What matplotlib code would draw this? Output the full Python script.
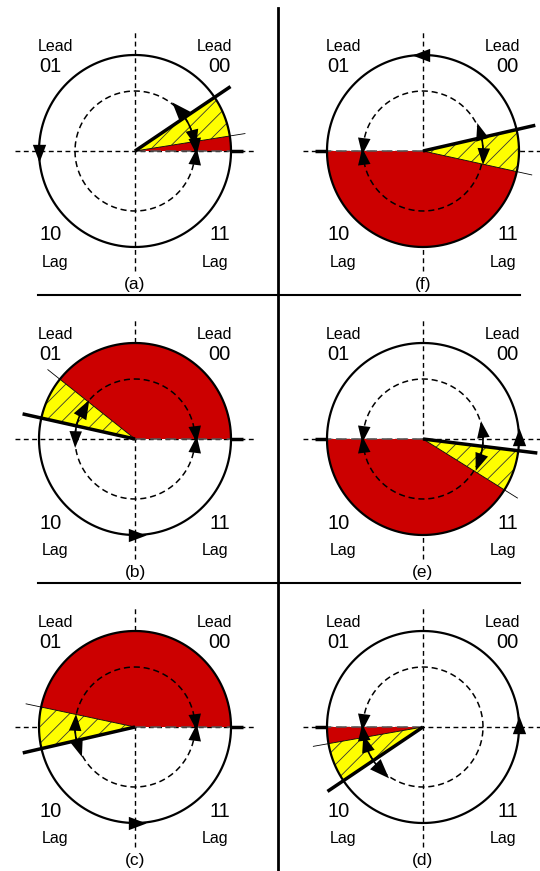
import numpy as np
import matplotlib.pyplot as plt
from matplotlib.patches import Wedge

plt.rcParams['font.family'] = ['Liberation Sans', 'DejaVu Sans']
plt.rcParams['hatch.linewidth'] = 0.6

# angles in degrees, counter-clockwise from +x
PANELS = ['(a)', '(b)', '(c)', '(f)', '(e)', '(d)']
AXIS_REF = [0, 0, 0, 180, 180, 180]            # where the red zone starts
RED_END = [9, 141.5, 168, 347.6, 328, 190]      # red zone end (thin line)
THICK = [34, 167.4, 193, 372.9, 353, 214]       # thick line, end of yellow zone
ARC_LO = [9, 146, 172, 352, 335, 192]           # solid double arrow on inner circle
ARC_HI = [47, 183, 203, 382, 373, 229]
OUTER_ARROW = [180, 270, 270, 90, 0, 0]         # rotation arrow on outer circle
QUAD_NUM = ['01', '00', '10', '11']
QUAD_TXT = ['Lead', 'Lead', 'Lag', 'Lag']

# layout (pixels)
FW, FH = 540, 871
COL_X = [135, 423]
ROW_Y = [151, 439, 727]
R = 96
R_IN = 0.625
RED = '#CC0000'
YEL = '#FFFF00'

fig = plt.figure(figsize=(FW / 100, FH / 100), dpi=100)

bg = fig.add_axes([0, 0, 1, 1])
bg.set_xlim(0, FW); bg.set_ylim(FH, 0); bg.axis('off')
bg.plot([278, 278], [8, 871], color='black', lw=2)
bg.plot([38, 520], [295, 295], color='black', lw=1.5)
bg.plot([38, 520], [583, 583], color='black', lw=1.5)


def head(ax, r, th, ccw=True, ms=15):
    t = np.radians(th)
    phi = np.radians(th + 90 if ccw else th - 90)
    base = np.array([[1.0, 0.0], [-0.6, 0.6], [-0.6, -0.6], [1.0, 0.0]])
    rotm = np.array([[np.cos(phi), -np.sin(phi)], [np.sin(phi), np.cos(phi)]])
    verts = base @ rotm.T
    ax.plot(r * np.cos(t), r * np.sin(t), marker=verts, ms=ms, mew=0,
            color='black', zorder=6)


def ray(ax, th, r0, r1, **kw):
    t = np.radians(th)
    ax.plot([r0 * np.cos(t), r1 * np.cos(t)], [r0 * np.sin(t), r1 * np.sin(t)], **kw)


for i, lab in enumerate(PANELS):
    cx, cy = COL_X[i // 3], ROW_Y[i % 3]
    ax = fig.add_axes([(cx - 135) / FW, (FH - cy - 145) / FH, 270 / FW, 290 / FH])
    ax.set_xlim(-135 / R, 135 / R); ax.set_ylim(-145 / R, 145 / R)
    ax.axis('off')

    # dashed axes
    ax.plot([-1.25, 1.25], [0, 0], color='black', lw=1, ls=(0, (3.5, 2.5)), zorder=1)
    ax.plot([0, 0], [-1.25, 1.25], color='black', lw=1, ls=(0, (3.5, 2.5)), zorder=1)

    a0, re, tk = AXIS_REF[i], RED_END[i], THICK[i]
    ax.add_patch(Wedge((0, 0), 1, a0, re, facecolor=RED, edgecolor='none', zorder=2))
    ax.add_patch(Wedge((0, 0), 1, re, tk, facecolor=YEL, edgecolor='#333333',
                       hatch='//', lw=0, zorder=2))
    ray(ax, a0, 0, 1, color='#555555', lw=1.1, ls=(0, (7, 3)), zorder=3)
    ray(ax, a0, 1, 1.13, color='black', lw=2.5, zorder=4, solid_capstyle='butt')

    # inner dashed circle
    t = np.linspace(0, 2 * np.pi, 300)
    ax.plot(R_IN * np.cos(t), R_IN * np.sin(t), color='black', lw=1.1,
            ls=(0, (4, 2.5)), zorder=3)
    ta = np.radians(np.linspace(ARC_LO[i], ARC_HI[i], 60))
    ax.plot(R_IN * np.cos(ta), R_IN * np.sin(ta), color='black', lw=1.2, zorder=4)
    head(ax, R_IN, ARC_LO[i] + 5, ccw=False)
    head(ax, R_IN, ARC_HI[i] - 5, ccw=True)
    head(ax, R_IN, a0 + 7, ccw=False)
    head(ax, R_IN, a0 - 7, ccw=True)

    # outer circle
    ax.plot(np.cos(t), np.sin(t), color='black', lw=1.6, zorder=4)
    head(ax, 1, OUTER_ARROW[i], ccw=True, ms=16)

    # thin and thick lines
    ray(ax, re, 0, 1.16, color='black', lw=0.6, zorder=4)
    ray(ax, tk, 0, 1.2, color='black', lw=2.5, zorder=5, solid_capstyle='butt')

    # quadrant labels
    for (x, y), num, txt in zip([(-1, 1), (1, 1), (-1, -1), (1, -1)], QUAD_NUM, QUAD_TXT):
        ny = 0.875 * y
        ty = 1.09 if y > 0 else -1.16
        ax.text(0.88 * x, ny, num, fontsize=14.5, ha='center', va='center')
        ax.text(0.83 * x, ty, txt, fontsize=11.5, ha='center', va='center')
    ax.text(0, -1.39, lab, fontsize=12.5, ha='center', va='center')

fig.savefig('out.png', dpi=100, facecolor='white')
